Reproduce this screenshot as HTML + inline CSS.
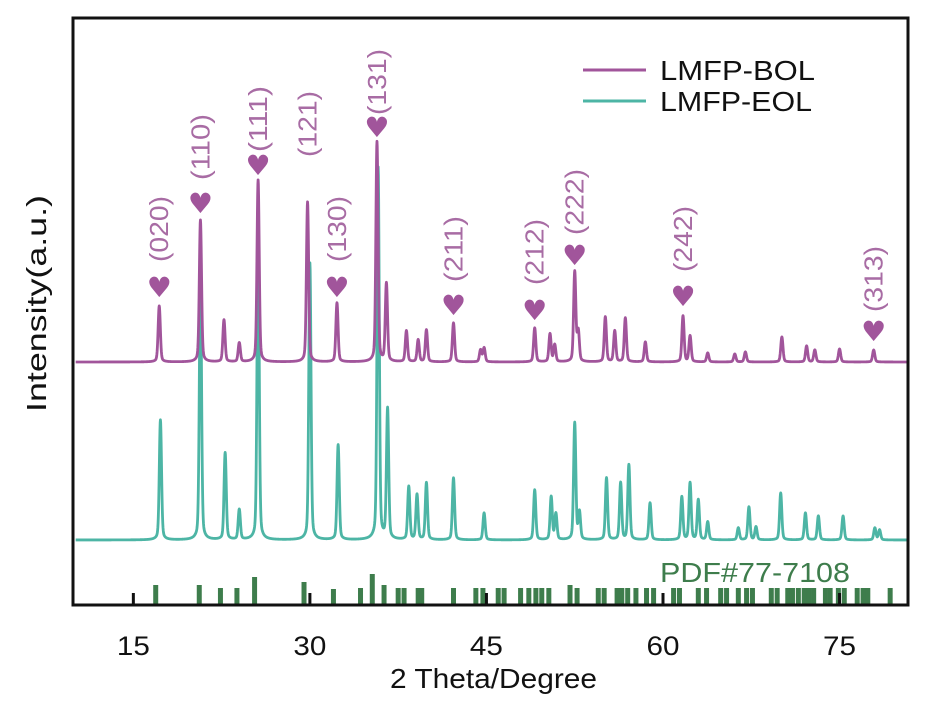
<!DOCTYPE html>
<html><head><meta charset="utf-8"><style>
body{margin:0;background:#fff;}
svg text{font-family:"Liberation Sans",Arial,sans-serif;}
</style></head><body>
<svg id="chart" width="945" height="705" viewBox="0 0 945 705" xmlns="http://www.w3.org/2000/svg">
<g id="refs"></g>
<g id="series"></g>
<g id="annots"></g>
<rect x="73" y="18" width="835" height="587" fill="none" stroke="#111" stroke-width="3"/>
<g id="xticks"></g>
<text x="390" y="688" font-size="28" textLength="207" lengthAdjust="spacingAndGlyphs" fill="#111">2 Theta/Degree</text>
<text transform="translate(46,412) rotate(-90)" font-size="28" textLength="217" lengthAdjust="spacingAndGlyphs" fill="#111">Intensity(a.u.)</text>
<g>
<line x1="583" y1="70" x2="646" y2="70" stroke="#a1559b" stroke-width="3"/>
<text x="660" y="80" font-size="28" textLength="155" lengthAdjust="spacingAndGlyphs" fill="#111">LMFP-BOL</text>
<line x1="583" y1="101" x2="646" y2="101" stroke="#4db5a5" stroke-width="3"/>
<text x="660" y="111" font-size="28" textLength="152" lengthAdjust="spacingAndGlyphs" fill="#111">LMFP-EOL</text>
</g>
<text x="660" y="582" font-size="28" textLength="190" lengthAdjust="spacingAndGlyphs" fill="#3e7d4c">PDF#77-7108</text>
</svg>
<script>
// data
const bolPos=[17.2,20.7,22.7,24.0,25.6,29.8,32.3,35.7,36.5,38.2,39.2,39.9,42.2,44.5,44.8,49.1,50.4,50.8,52.5,52.8,55.1,55.9,56.8,58.5,61.7,62.3,63.8,66.1,67.0,70.1,72.2,72.9,75.0,77.9];
const bolInt=[56,142,42,19,182,160,59,220,78,31,22,32,39,12,14,34,28,17,90,30,45,31,44,20,46,26,9,8,10,25,16,12,13,12];
const eolPos=[17.3,20.7,22.8,24.0,25.6,30.0,32.4,35.8,36.6,38.4,39.1,39.9,42.2,44.8,49.1,50.5,50.9,52.5,52.9,55.2,56.4,57.1,58.9,61.6,62.3,63.0,63.8,66.4,67.3,67.9,70.0,72.1,73.2,75.3,78.0,78.4];
const eolInt=[120,263,87,30,300,277,95,372,130,53,45,57,62,27,50,43,26,117,27,62,57,75,37,43,57,40,18,12,33,13,47,27,24,24,12,10];
const bolBase=243, eolBase=65;
const refPos=[16.9,20.6,22.4,23.8,25.3,29.5,32.0,34.3,35.3,36.3,37.5,38.0,39.2,39.5,42.2,44.1,44.7,46.0,46.5,47.9,48.6,49.2,49.7,50.3,52.1,52.7,54.5,55.0,56.1,56.5,57.0,57.7,58.6,59.2,60.9,61.4,63.0,63.7,64.9,65.4,66.4,67.1,67.6,69.2,69.7,70.6,71.0,71.5,72.0,72.4,72.8,73.8,74.2,74.9,75.4,76.5,77.0,77.4,79.3];
const refInt=[20,20,17,17,28,23,16,17,31,20,17,17,17,17,17,17,17,17,17,17,17,17,17,17,20,17,17,17,17,17,17,17,17,17,17,17,17,17,17,17,17,17,17,17,17,17,17,17,17,17,17,17,17,17,17,17,17,17,17];
const xTicks=[15,30,45,60,75];
const hkl=["(020)","(110)","(111)","(121)","(130)","(131)","(211)","(212)","(222)","(242)","(313)"];
const hklPos=[17.2,20.7,25.6,29.8,32.3,35.7,42.2,49.1,52.5,61.7,77.9];
const hklLabelBottom=[262,180,152,157,262,115,282,285,235,272,312];
const hklHeartY=[287,203,165,0,287,127,305,310,255,296,331];

const X=d=>74.5+(d-10)*11.77;
const Y=v=>605-v;
const NS="http://www.w3.org/2000/svg";
function mk(t,a,p){const e=document.createElementNS(NS,t);for(const k in a)e.setAttribute(k,a[k]);p.appendChild(e);return e;}
function profile(pos,ints,base,d){let s=0;for(let i=0;i<pos.length;i++){const g=(d-pos[i])/0.09;s+=ints[i]*(0.85*Math.exp(-0.5*g*g)+0.15/(1+g*g/4));}return base+s;}
function curve(pos,ints,base,color,name){let p="";for(let d=10.1;d<=80.9;d+=0.02){p+=(p?"L":"M")+X(d).toFixed(2)+","+Y(profile(pos,ints,base,d)).toFixed(2);}
const el=mk("path",{d:p,fill:"none",stroke:color,"stroke-width":2.8,"stroke-linejoin":"round"},document.getElementById("series"));

}
curve(eolPos,eolInt,eolBase,"#4db5a5","eol-line");
curve(bolPos,bolInt,bolBase,"#a1559b","bol-line");
const refs=document.getElementById("refs");
refPos.forEach((d,i)=>{const r=mk("rect",{x:X(d)-2.5,y:Y(refInt[i]),width:5,height:refInt[i],fill:"#3e7d4c"},refs);

});
const xt=document.getElementById("xticks");
xTicks.forEach(t=>{const l=mk("line",{x1:X(t),x2:X(t),y1:605,y2:593,stroke:"#111","stroke-width":3},xt);


const tx=mk("text",{x:X(t),y:655,"font-size":27,"text-anchor":"middle",textLength:33,lengthAdjust:"spacingAndGlyphs",fill:"#111"},xt);tx.textContent=t;

});
const an=document.getElementById("annots");
hkl.forEach((h,i)=>{const x=X(hklPos[i]);
const t=mk("text",{transform:`translate(${x+9},${hklLabelBottom[i]}) rotate(-90)`,"font-size":26,textLength:66,lengthAdjust:"spacingAndGlyphs",fill:"#a86ca4"},an);t.textContent=h;


if(hklHeartY[i]){const hr=mk("text",{x:x,y:hklHeartY[i]+10,"font-size":28,"text-anchor":"middle",fill:"#a1559b",style:'font-family:"DejaVu Sans",sans-serif'},an);hr.textContent="\u2665";

}});
</script>
</body></html>
